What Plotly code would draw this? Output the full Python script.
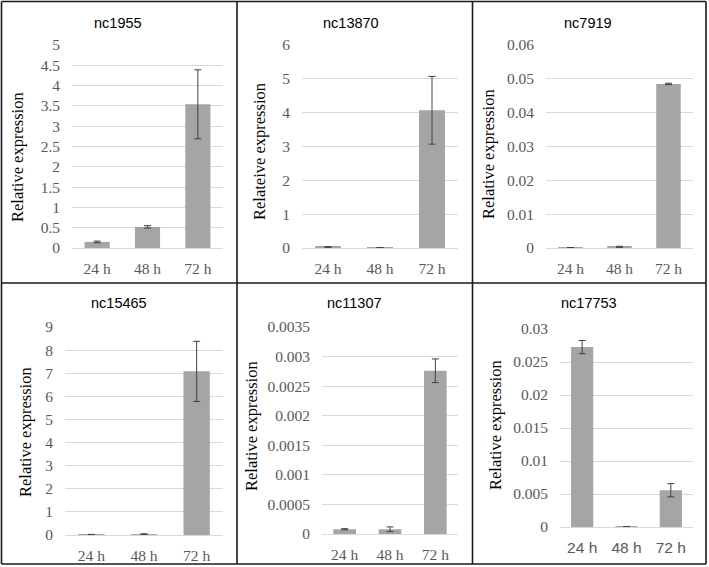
import plotly.graph_objects as go

W, H = 709, 567

categories = ["24 h", "48 h", "72 h"]

gene_names = ["nc1955", "nc13870", "nc7919", "nc15465", "nc11307", "nc17753"]
y_titles = ["Relative expression", "Relateive expression", "Relative expression",
            "Relative expression", "Relative expression", "Relative expression"]

nc1955_vals = [0.15, 0.52, 3.54]
nc1955_err = [0.02, 0.03, 0.85]
nc13870_vals = [0.03, 0.01, 4.07]
nc13870_err = [0.01, 0.004, 1.0]
nc7919_vals = [0.0001, 0.0003, 0.0485]
nc7919_err = [0.00005, 0.0002, 0.0002]
nc15465_vals = [0.02, 0.04, 7.08]
nc15465_err = [0.005, 0.01, 1.3]
nc11307_vals = [0.00008, 0.00008, 0.00276]
nc11307_err = [0.00001, 0.00004, 0.0002]
nc17753_vals = [0.02726, 0.00005, 0.00557]
nc17753_err = [0.001, 0.00002, 0.001]

y_max = [5, 6, 0.06, 9, 0.0035, 0.03]
y_dtick = [0.5, 1, 0.01, 1, 0.0005, 0.005]

all_vals = [nc1955_vals, nc13870_vals, nc7919_vals, nc15465_vals, nc11307_vals, nc17753_vals]
all_errs = [nc1955_err, nc13870_err, nc7919_err, nc15465_err, nc11307_err, nc17753_err]

# layout geometry in pixels: (x_left, x_right, y_top, y_bottom)
plot_boxes = [(72, 223, 45, 248), (302, 458, 45, 248), (546, 693, 45, 248),
              (65, 223, 327, 535), (322, 458, 327, 534), (560, 693, 329, 527)]
title_pos = [(118, 23), (351, 23), (588, 23), (119, 303), (354, 303), (589, 303)]
ytitle_pos = [(18, 157), (259, 152), (488, 154), (25, 432), (251, 426), (495, 425)]

BAR = "#A5A5A5"
GRID = "#D9D9D9"
TICK = "#595959"
SERIF = "Liberation Serif, Times New Roman, DejaVu Serif, serif"
SANS = "Liberation Sans, Arial, sans-serif"

fig = go.Figure()
layout = dict(width=W, height=H, autosize=False, margin=dict(l=0, r=0, t=0, b=0, pad=0),
              paper_bgcolor="white", plot_bgcolor="white", showlegend=False,
              bargap=0.5)
annotations = []
for i in range(6):
    n = "" if i == 0 else str(i + 1)
    fig.add_trace(go.Bar(
        x=categories, y=all_vals[i], marker=dict(color=BAR, line=dict(width=0)),
        error_y=dict(type="data", array=all_errs[i], visible=True,
                     color="#404040", thickness=1, width=3.5),
        xaxis="x" + n, yaxis="y" + n))
    x0, x1, yt, yb = plot_boxes[i]
    xfont = SANS if i == 5 else SERIF
    layout["xaxis" + n] = dict(
        domain=[x0 / W, x1 / W], anchor="y" + n, showgrid=False, zeroline=False,
        showline=False, ticks="", tickfont=dict(family=xfont, size=15.5, color=TICK),
        ticklabelstandoff=9, fixedrange=True, automargin=False)
    layout["yaxis" + n] = dict(
        domain=[1 - yb / H, 1 - yt / H], anchor="x" + n, range=[0, y_max[i]],
        dtick=y_dtick[i], tick0=0, showgrid=True, gridcolor=GRID, gridwidth=1,
        zeroline=True, zerolinecolor=GRID, zerolinewidth=1, showline=False,
        ticks="", tickfont=dict(family=SERIF, size=15.5, color=TICK),
        ticklabelstandoff=11, fixedrange=True, automargin=False)
    tx, ty = title_pos[i]
    annotations.append(dict(text=gene_names[i], x=tx / W, y=1 - ty / H, xref="paper", yref="paper",
                            showarrow=False, xanchor="center", yanchor="middle",
                            font=dict(family=SANS, size=14.5, color="#000000")))
    ax, ay = ytitle_pos[i]
    annotations.append(dict(text=y_titles[i], x=ax / W, y=1 - ay / H, xref="paper", yref="paper",
                            showarrow=False, xanchor="center", yanchor="middle", textangle=-90,
                            font=dict(family=SERIF, size=16.5, color="#000000")))
layout["annotations"] = annotations

# panel borders
shapes = []
vx = [1.5, 237, 472.5, 706]
hy = [1.5, 283, 564]
for x in vx:
    shapes.append(dict(type="line", xref="paper", yref="paper", x0=x / W, x1=x / W,
                       y0=1 - hy[0] / H, y1=1 - hy[-1] / H, line=dict(color="#1a1a1a", width=1.6)))
for y in hy:
    shapes.append(dict(type="line", xref="paper", yref="paper", x0=vx[0] / W, x1=vx[-1] / W,
                       y0=1 - y / H, y1=1 - y / H, line=dict(color="#1a1a1a", width=1.6)))
layout["shapes"] = shapes

fig.update_layout(**layout)
post = ("document.documentElement.style.margin='0';"
        "document.body.style.margin='0';document.body.style.padding='0';"
        "document.body.style.overflow='hidden';")
fig.write_html("out.html", config={"displayModeBar": False, "responsive": False},
               post_script=post)
